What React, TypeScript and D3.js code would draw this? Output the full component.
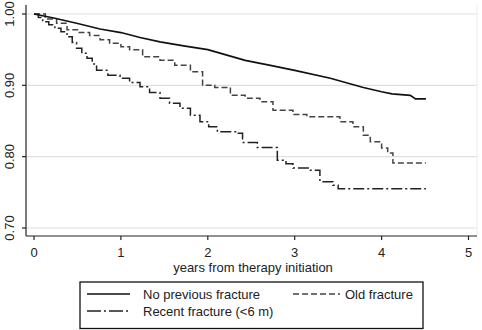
import React from "react";
import * as d3 from "d3";

const xTicks = [0, 1, 2, 3, 4, 5];
const yTicks = [0.7, 0.8, 0.9, 1.0];
const yTickLabels = ["0.70", "0.80", "0.90", "1.00"];

const noPrevT = [0, 0.24, 0.49, 0.76, 1.0, 1.22, 1.45, 1.74, 2.0, 2.43, 2.72, 3.0, 3.41, 3.79, 4.0, 4.12, 4.33, 4.39, 4.51];
const noPrevS = [1.0, 0.994, 0.987, 0.979, 0.974, 0.967, 0.961, 0.955, 0.95, 0.935, 0.928, 0.921, 0.91, 0.897, 0.891, 0.888, 0.886, 0.881, 0.881];

const oldT = [0, 0.13, 0.26, 0.38, 0.5, 0.64, 0.76, 0.87, 1.0, 1.1, 1.25, 1.45, 1.62, 1.8, 1.94, 2.08, 2.26, 2.43, 2.6, 2.75, 2.98, 3.14, 3.46, 3.52, 3.67, 3.79, 3.87, 4.0, 4.07, 4.13, 4.51];
const oldS = [1.0, 0.993, 0.987, 0.978, 0.974, 0.97, 0.964, 0.959, 0.954, 0.95, 0.94, 0.935, 0.928, 0.919, 0.9, 0.897, 0.886, 0.882, 0.877, 0.865, 0.859, 0.856, 0.856, 0.849, 0.842, 0.83, 0.821, 0.812, 0.805, 0.791, 0.791];

const recentT = [0, 0.05, 0.1, 0.17, 0.24, 0.31, 0.38, 0.44, 0.49, 0.55, 0.61, 0.67, 0.72, 0.85, 0.99, 1.1, 1.22, 1.33, 1.45, 1.56, 1.68, 1.8, 1.91, 2.01, 2.11, 2.35, 2.4, 2.57, 2.72, 2.8, 2.9, 2.98, 3.18, 3.29, 3.44, 3.5, 4.51];
const recentS = [1.0, 0.995, 0.989, 0.985, 0.98, 0.975, 0.968, 0.96, 0.952, 0.945, 0.938, 0.93, 0.921, 0.914, 0.91, 0.904, 0.898, 0.89, 0.882, 0.875, 0.868, 0.858, 0.849, 0.842, 0.835, 0.833, 0.82, 0.813, 0.813, 0.795, 0.79, 0.784, 0.781, 0.765, 0.76, 0.755, 0.755];

const FONT = "'Liberation Sans', Arial, Helvetica, sans-serif";
const FS = 13;

export default function App() {
  const x = d3.scaleLinear().domain([0, 5]).range([34, 468.5]);
  const y = d3.scaleLinear().domain([0.7, 1.0]).range([228, 14]);
  const plotLeft = 26;
  const plotRight = 477;
  const plotTop = 5;
  const plotBottom = 236;

  const mk = (ts: number[], ss: number[], curve: any) =>
    d3
      .line<number>()
      .x((_, i) => x(ts[i]))
      .y((d) => y(d))
      .curve(curve)(ss) || "";

  const solidPath = mk(noPrevT, noPrevS, d3.curveLinear);
  const oldPath = mk(oldT, oldS, d3.curveStepAfter);
  const recentPath = mk(recentT, recentS, d3.curveStepAfter);

  return (
    <svg
      width={482}
      height={330}
      style={{ position: "absolute", left: 0, top: 0, background: "#fff" }}
      fontFamily={FONT}
    >
      <rect x={0} y={0} width={482} height={330} fill="#fff" />
      {yTicks.map((t) => (
        <line key={"g" + t} x1={plotLeft} x2={plotRight} y1={y(t)} y2={y(t)} stroke="#e0e0e0" strokeWidth={1.2} />
      ))}
      <line x1={plotRight} x2={plotRight} y1={plotTop} y2={plotBottom} stroke="#ececec" strokeWidth={1} />
      <line x1={plotLeft} x2={plotLeft} y1={plotTop} y2={plotBottom} stroke="#222" strokeWidth={1.2} />
      <line x1={plotLeft} x2={plotRight} y1={plotBottom} y2={plotBottom} stroke="#222" strokeWidth={1.2} />
      {yTicks.map((t, i) => (
        <g key={"y" + t}>
          <line x1={plotLeft - 4} x2={plotLeft} y1={y(t)} y2={y(t)} stroke="#222" strokeWidth={1.2} />
          <text
            transform={`translate(13.5,${y(t)}) rotate(-90)`}
            textAnchor="middle"
            fontSize={FS}
            fill="#222"
          >
            {yTickLabels[i]}
          </text>
        </g>
      ))}
      {xTicks.map((t) => (
        <g key={"x" + t}>
          <line x1={x(t)} x2={x(t)} y1={plotBottom} y2={plotBottom + 4} stroke="#222" strokeWidth={1.2} />
          <text x={x(t)} y={257} textAnchor="middle" fontSize={FS} fill="#222">
            {t}
          </text>
        </g>
      ))}
      <text x={253} y={272} textAnchor="middle" fontSize={FS} fill="#222">
        years from therapy initiation
      </text>
      <path d={recentPath} fill="none" stroke="#222" strokeWidth={1.5} strokeDasharray="11,3,2,3" />
      <path d={oldPath} fill="none" stroke="#444" strokeWidth={1.5} strokeDasharray="6,3" />
      <path d={solidPath} fill="none" stroke="#111" strokeWidth={1.7} />
      <rect x={80} y={282} width={343} height={46.5} fill="#fff" stroke="#111" strokeWidth={1.3} />
      <line x1={87} x2={130} y1={294} y2={294} stroke="#111" strokeWidth={1.7} />
      <text x={143} y={298.5} fontSize={FS} fill="#222">No previous fracture</text>
      <line x1={293} x2={340} y1={294} y2={294} stroke="#444" strokeWidth={1.5} strokeDasharray="6,3" />
      <text x={345} y={298.5} fontSize={FS} fill="#222">Old fracture</text>
      <line x1={87} x2={130} y1={311} y2={311} stroke="#222" strokeWidth={1.5} strokeDasharray="14,3,2,3" />
      <text x={143} y={315.5} fontSize={FS} fill="#222">Recent fracture (&lt;6 m)</text>
    </svg>
  );
}
